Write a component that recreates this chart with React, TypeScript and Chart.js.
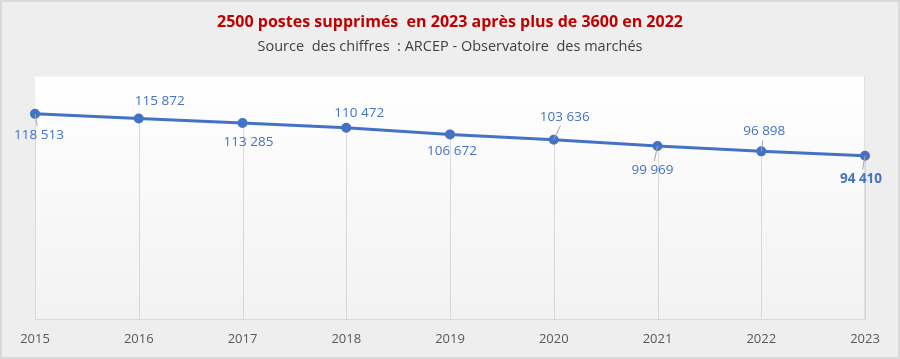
import React, { useEffect, useRef } from "react";
import { Chart, registerables } from "chart.js";

Chart.register(...registerables);

const years = ["2015", "2016", "2017", "2018", "2019", "2020", "2021", "2022", "2023"];
const employees = [118513, 115872, 113285, 110472, 106672, 103636, 99969, 96898, 94410];
const titleText = "2500 postes supprimés  en 2023 après plus de 3600 en 2022";
const subtitleText = "Source  des chiffres  : ARCEP - Observatoire  des marchés";

// label placement (style): offset from point in px, and whether a leader line is drawn
const labelOffsets: [number, number][] = [
  [4, 21], [21, -17], [6, 19], [13, -15], [2, 17], [11, -23], [-5, 24], [3, -20], [-4, 23],
];
const leaderLines = [true, false, false, false, false, true, true, true, true];

const BLUE = "#4472c4";
const FONT = "'Open Sans', 'Noto Sans', sans-serif";

function fmt(v: number) {
  const th = Math.floor(v / 1000);
  const rest = String(v % 1000).padStart(3, "0");
  return `${th} ${rest}`;
}

const backgroundPlugin = {
  id: "bgPlugin",
  beforeDraw(chart: any) {
    const { ctx, width, height, chartArea } = chart;
    ctx.save();
    ctx.fillStyle = "#eeeeee";
    ctx.fillRect(0, 0, width, height);
    ctx.strokeStyle = "#d9d9d9";
    ctx.lineWidth = 2;
    ctx.strokeRect(1, 1, width - 2, height - 2);
    const g = ctx.createLinearGradient(0, chartArea.top, 0, chartArea.bottom);
    g.addColorStop(0, "#ffffff");
    g.addColorStop(1, "#f2f2f2");
    ctx.fillStyle = g;
    ctx.fillRect(chartArea.left, chartArea.top, chartArea.right - chartArea.left, chartArea.bottom - chartArea.top);
    ctx.strokeStyle = "#e0e0e0";
    ctx.lineWidth = 1;
    ctx.beginPath();
    ctx.moveTo(chartArea.right - 0.5, chartArea.top);
    ctx.lineTo(chartArea.right - 0.5, chartArea.bottom);
    ctx.stroke();
    ctx.restore();
  },
};

const dropLinePlugin = {
  id: "dropLines",
  beforeDatasetsDraw(chart: any) {
    const { ctx, chartArea } = chart;
    const meta = chart.getDatasetMeta(0);
    ctx.save();
    ctx.strokeStyle = "#d9d9d9";
    ctx.lineWidth = 1;
    meta.data.forEach((pt: any) => {
      const x = Math.round(pt.x) + 0.5;
      ctx.beginPath();
      ctx.moveTo(x, pt.y);
      ctx.lineTo(x, chartArea.bottom);
      ctx.stroke();
    });
    ctx.restore();
  },
};

const labelPlugin = {
  id: "pointLabels",
  afterDatasetsDraw(chart: any) {
    const { ctx } = chart;
    const meta = chart.getDatasetMeta(0);
    ctx.save();
    meta.data.forEach((pt: any, i: number) => {
      const [dx, dy] = labelOffsets[i];
      const lx = pt.x + dx;
      const ly = pt.y + dy;
      if (leaderLines[i]) {
        const endY = ly + (dy > 0 ? -9 : 9);
        const endX = pt.x + (endY - pt.y) * (dx / dy);
        ctx.strokeStyle = "#a6a6a6";
        ctx.lineWidth = 1;
        ctx.beginPath();
        ctx.moveTo(pt.x, pt.y);
        ctx.lineTo(endX, endY);
        ctx.stroke();
      }
      const last = i === meta.data.length - 1;
      ctx.font = `${last ? "bold " : ""}13.5px ${FONT}`;
      ctx.fillStyle = BLUE;
      ctx.textAlign = "center";
      ctx.textBaseline = "middle";
      ctx.fillText(fmt(employees[i]), lx, ly);
    });
    ctx.restore();
  },
};

export default function App() {
  const ref = useRef<HTMLCanvasElement>(null);
  useEffect(() => {
    document.body.style.margin = "0";
    if (!ref.current) return;
    const chart = new Chart(ref.current, {
      type: "line",
      data: {
        labels: years,
        datasets: [
          {
            data: employees,
            borderColor: BLUE,
            backgroundColor: BLUE,
            borderWidth: 3,
            pointRadius: 3.5,
            pointBackgroundColor: BLUE,
            pointBorderColor: BLUE,
            tension: 0,
            clip: false as any,
          },
        ],
      },
      options: {
        animation: false,
        responsive: false,
        layout: { padding: { left: 35, right: 35, top: 0, bottom: 0 } },
        plugins: {
          legend: { display: false },
          tooltip: { enabled: false },
          title: {
            display: true,
            text: titleText,
            color: "#c00000",
            font: { family: FONT, size: 16, weight: "bold" },
            padding: { top: 13, bottom: 3 },
          },
          subtitle: {
            display: true,
            text: subtitleText,
            color: "#404040",
            font: { family: FONT, size: 14.5 },
            padding: { top: 3, bottom: 21 },
          },
        },
        scales: {
          x: {
            offset: false,
            grid: { display: false, drawTicks: false },
            border: { display: true, color: "#d9d9d9", width: 1 },
            ticks: { color: "#595959", font: { family: FONT, size: 13 }, padding: 12, maxRotation: 0 },
          },
          y: { display: false, min: 0, max: 140000 },
        },
      },
      plugins: [backgroundPlugin, dropLinePlugin, labelPlugin],
    });
    return () => chart.destroy();
  }, []);
  return (
    <div style={{ width: 900, height: 359 }}>
      <canvas ref={ref} width={900} height={359} style={{ display: "block" }} />
    </div>
  );
}
